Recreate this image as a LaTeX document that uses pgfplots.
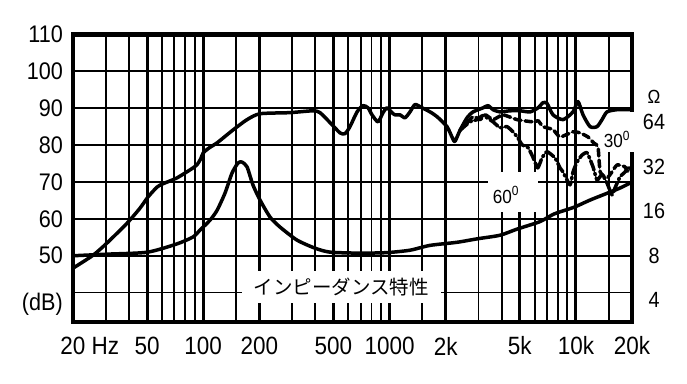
\documentclass[border=0pt]{standalone}
\usepackage{fontspec}
\setmainfont{Liberation Sans}[FakeStretch=0.9]
\newfontfamily\jp{Noto Sans CJK JP}
\usepackage{pgfplots}
\usepackage{pgfplotstable}
\pgfplotsset{compat=1.18}

\pgfplotstableread{
f db
20 46.6
25.6 50.1
30.4 53.4
39.0 58.8
45.8 62.9
50.5 65.9
56.5 68.6
60.8 69.5
72.3 71.1
88.1 73.8
93 74.8
97 76.3
100 77.9
108 79.3
118.6 80.6
144.5 84.1
171.8 86.9
201.7 88.5
292 88.8
388 89.3
423 88.8
479 86.1
542 83.3
577 83.1
613 85.0
669 89.0
720 90.7
766 90.1
805 88.2
867 86.3
922 88.8
969 90.1
1030 88.8
1069 88.2
1138 88.2
1210 87.4
1287 89.0
1370 91.0
1494 90.1
1649 89.0
1798 87.7
2033 85.0
2189 81.6
2245 81.0
2387 84.0
2603 87.4
2805 89.0
3173 90.1
3375 90.7
3590 89.6
3913 89.0
4429 89.3
5013 89.3
5673 89.0
6264 90.1
6662 91.5
7000 91.3
7538 88.2
8530 86.9
9650 89.0
10262 91.8
10918 88.2
11908 85.0
12983 85.0
13806 86.9
14685 89.0
16616 89.6
20000 89.6
}\tabzero

\pgfplotstableread{
f db
2387 84.0
2805 87.7
3058 86.9
3265 88.2
3590 86.9
4062 88.2
4830 86.9
5870 86.3
6264 86.6
6662 85.0
7538 84.2
8220 82.2
9650 83.6
10520 83.3
11610 82.2
12500 80.5
13140 79.5
13500 72.7
14685 71.1
15500 72.5
16616 74.6
18300 74.1
19039 72.7
20000 73.5
}\tabthirty

\pgfplotstableread{
f db
2387 84.0
2700 86.3
2945 86.9
3175 88.0
3590 86.3
3913 84.7
4265 85.0
4597 83.6
4889 81.9
5136 80.1
5533 79.3
5870 76.8
6238 73.8
6577 76.5
7000 78.2
7727 76.5
8220 73.8
8530 72.7
9296 69.2
9650 72.7
10140 75.4
10790 77.3
11480 77.9
12350 74.1
12983 70.5
13806 72.0
14685 69.7
15620 66.5
16220 68.4
17250 71.4
18350 72.7
19039 74.1
20000 73.3
}\tabsixty

\pgfplotstableread{
f z
20 8.0
30.4 8.2
50 8.45
72 9.6
88 10.7
96 11.9
108.7 13.9
118.6 16.2
130.9 21.2
142.7 28.9
153.7 33.8
161.4 34.3
171.8 31.8
184.9 24.0
201.7 19.0
228.2 14.6
258.1 12.5
318.6 10.2
398 9.0
479 8.46
694 8.33
969 8.4
1287 8.72
1649 9.4
2301 9.86
2946 10.4
3913 11.0
4830 12.1
6419 13.6
7630 15.3
9770 17.0
11908 19.0
14685 21.1
17250 22.9
20000 25.1
}\tabimp

\begin{document}
\begin{tikzpicture}
\begin{axis}[
  set layers,
  clip=false,
  scale only axis, width=559bp, height=287.5bp,
  xmode=log, xmin=20, xmax=20000, ymin=32, ymax=110,
  xtick={20,50,100,200,500,1000,2000,5000,10000,20000},
  xticklabels={20\rlap{ Hz},50,100,200,500,1000,2k,5k,10k,20k},
  minor xtick={30,40,60,70,80,90,150,300,400,600,700,800,900,1500,3000,4000,6000,7000,8000,9000,15000},
  ytick={50,60,70,80,90,100,110},
  yticklabels={50,60,70,80,90,100,110},
  minor ytick={40},
  extra y ticks={36.8}, extra y tick labels={(dB)},
  extra y tick style={grid=none},
  grid=both,
  major x grid style={line width=3bp, black},
  minor x grid style={line width=1.9bp, black},
  major y grid style={line width=1.9bp, black},
  minor y grid style={line width=1.9bp, black},
  major tick length=0pt, minor tick length=0pt,
  axis line style={line width=4.2bp, black},
  xticklabel style={anchor=center, yshift=-24bp, font=\fontsize{25bp}{28bp}\selectfont},
  yticklabel style={anchor=east, inner sep=0pt, xshift=-10bp, font=\fontsize{24bp}{28bp}\selectfont},
  every axis plot/.append style={line width=3.5bp, black, line join=round, line cap=round},
]
\coordinate (SW) at (rel axis cs:0,0);
\coordinate (NE) at (rel axis cs:1,1);
\begin{pgfonlayer}{pre main}
  \fill[white] (axis cs:3375,72.67) rectangle (axis cs:6264,61.8);
  \fill[white] (axis cs:13140,89.0) rectangle (axis cs:20000,78.2);
  \fill[white] ([xshift=0bp]axis cs:20000,89.0) rectangle ([xshift=12bp]axis cs:20000,78.2);
  \node[fill=white, inner xsep=12bp, inner ysep=7bp, font=\jp\fontsize{19.5bp}{22bp}\selectfont]
    at (axis cs:550,41.4) {インピーダンス特性};
\end{pgfonlayer}
\node[font=\fontsize{19bp}{22bp}\selectfont, inner sep=0pt] at (axis cs:4216,66.4) {60\textsuperscript{0}};
\node[font=\fontsize{19bp}{22bp}\selectfont, inner sep=0pt] at (axis cs:16600,81.5) {30\textsuperscript{0}};
\node[font=\fontsize{19bp}{22bp}\selectfont, inner sep=0pt] at ([xshift=22bp]axis cs:20000,93.0) {Ω};
\addplot[smooth, tension=0.4] table[x=f, y=db] {\tabzero};
\addplot[smooth, tension=0.3, dash pattern=on 7bp off 4bp] table[x=f, y=db] {\tabthirty};
\addplot[smooth, tension=0.3, dash pattern=on 10bp off 3bp on 2bp off 3bp] table[x=f, y=db] {\tabsixty};
\end{axis}
\begin{axis}[
  scale only axis, width=559bp, height=287.5bp,
  xmode=log, xmin=20, xmax=20000,
  ymode=log, log basis y=2, ymin=2.86, ymax=248.6,
  xtick=\empty,
  ytick={4,8,16,32,64},
  yticklabels={4,8,16,32,64},
  yticklabel pos=right,
  major tick length=0pt, minor tick length=0pt,
  axis line style={draw=none},
  yticklabel style={anchor=center, inner sep=0pt, xshift=22bp, font=\fontsize{22bp}{25bp}\selectfont},
]
\addplot[smooth, tension=0.4, line width=3.5bp, black, line join=round, line cap=round] table[x=f, y=z] {\tabimp};
\end{axis}
\pgfresetboundingbox
\path[use as bounding box] ([shift={(-73bp,-62bp)}]SW) rectangle ([shift={(55bp,34.5bp)}]NE);
\end{tikzpicture}
\end{document}
